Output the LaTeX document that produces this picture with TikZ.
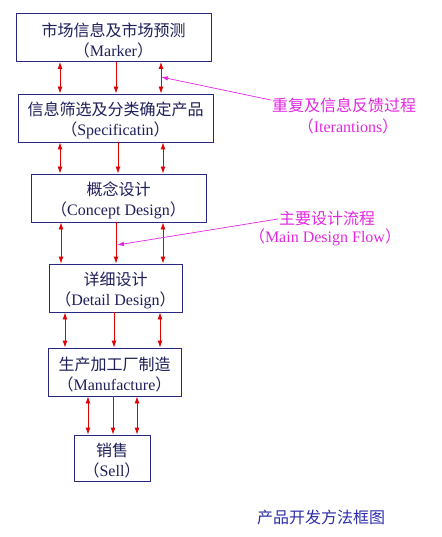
\documentclass[tikz,border=0pt]{standalone}
\usepackage{fontspec}
\setmainfont{Liberation Serif}
\newfontfamily\cjk{Noto Sans CJK SC}
\usetikzlibrary{arrows.meta}
\definecolor{navyline}{RGB}{40,40,130}
\definecolor{navytext}{RGB}{30,30,90}
\definecolor{flowred}{RGB}{225,0,0}
\definecolor{notemagenta}{RGB}{225,40,225}
\definecolor{captionblue}{RGB}{45,45,170}
\newcommand{\zh}[1]{{\cjk\fontsize{16}{20}\selectfont #1}}
\newcommand{\zhtop}[1]{\rule{0pt}{19pt}\zh{#1}}
\newcommand{\en}[1]{{\cjk （}#1{\cjk ）}}

\begin{document}
\begin{tikzpicture}[x=1pt,y=-1pt]
        % Define styles
        \tikzset{
            stage/.style={rectangle, draw=navyline, line width=0.9pt, text=navytext, align=center, inner sep=0pt, minimum height=48pt, font=\fontsize{16}{20}\selectfont},
            link/.style={draw=flowred, line width=0.9pt},
            both/.style={link, {Latex[length=7pt,width=5pt]}-{Latex[length=7pt,width=5pt]}},
            down/.style={link, -{Latex[length=7pt,width=5pt]}},
            note/.style={text=notemagenta, inner sep=1pt, font=\fontsize{16}{20}\selectfont},
            pointer/.style={draw=notemagenta, line width=0.7pt, -{Latex[length=7pt,width=4.5pt]}}
        }
        \useasboundingbox (0,0) rectangle (441,537);

        % Nodes
        \node[stage, minimum width=195pt] (stage_node_1) at (113.5,37.5) {\zhtop{市场信息及市场预测} \\ \en{Marker}};
        \node[stage, minimum width=195pt] (stage_node_2) at (115.5,118) {\zhtop{信息筛选及分类确定产品} \\ \en{Specificatin}};
        \node[stage, minimum width=175pt] (stage_node_3) at (118.5,198) {\zhtop{概念设计} \\ \en{Concept Design}};
        \node[stage, minimum width=133pt] (stage_node_4) at (115.5,288) {\zhtop{详细设计} \\ \en{Detail Design}};
        \node[stage, minimum width=133pt] (stage_node_5) at (114.5,372) {\zhtop{生产加工厂制造} \\ \en{Manufacture}};
        \node[stage, minimum width=76pt, minimum height=46pt] (stage_node_6) at (112,458) {\zhtop{销售} \\ \en{Sell}};

        % Arrows
        \draw[both] (60,0 |- stage_node_1.south) -- (60,0 |- stage_node_2.north);
        \draw[down] (116,0 |- stage_node_1.south) -- (116,0 |- stage_node_2.north);
        \draw[both] (161,0 |- stage_node_1.south) -- (161,0 |- stage_node_2.north);
        \draw[both] (60,0 |- stage_node_2.south) -- (60,0 |- stage_node_3.north);
        \draw[down] (118,0 |- stage_node_2.south) -- (118,0 |- stage_node_3.north);
        \draw[both] (163,0 |- stage_node_2.south) -- (163,0 |- stage_node_3.north);
        \draw[both] (61,0 |- stage_node_3.south) -- (61,0 |- stage_node_4.north);
        \draw[down] (116,0 |- stage_node_3.south) -- (116,0 |- stage_node_4.north);
        \draw[both] (163,0 |- stage_node_3.south) -- (163,0 |- stage_node_4.north);
        \draw[both] (65,0 |- stage_node_4.south) -- (65,0 |- stage_node_5.north);
        \draw[down] (114,0 |- stage_node_4.south) -- (114,0 |- stage_node_5.north);
        \draw[both] (160,0 |- stage_node_4.south) -- (160,0 |- stage_node_5.north);
        \draw[both] (88,0 |- stage_node_5.south) -- (88,0 |- stage_node_6.north);
        \draw[down] (113,0 |- stage_node_5.south) -- (113,0 |- stage_node_6.north);
        \draw[both] (137,0 |- stage_node_5.south) -- (137,0 |- stage_node_6.north);

        % Notes
        \node[note] (loop_title) at (344,105) {\zh{重复及信息反馈过程}};
        \node[note] (loop_note) at (348,126) {\en{Iterantions}};
        \coordinate (loop_tip) at (161,77);
        \draw[pointer] ([yshift=5pt]loop_title.west) -- (loop_tip);

        \node[note] (flow_title) at (327,218) {\zh{主要设计流程}};
        \node[note] (flow_note) at (325,237) {\en{Main Design Flow}};
        \coordinate (flow_tip) at (117,245);
        \draw[pointer] ([yshift=-1pt]flow_title.west) -- (flow_tip);

        % Caption
        \node[text=captionblue] (caption_node) at (321,517) {\zh{产品开发方法框图}};
\end{tikzpicture}
\end{document}
